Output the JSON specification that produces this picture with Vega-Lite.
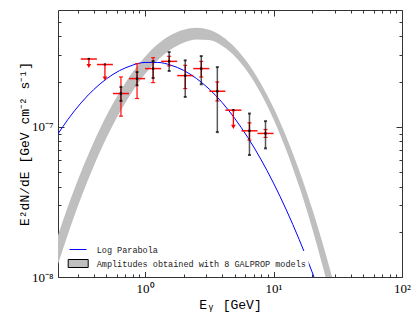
{
  "$schema": "https://vega.github.io/schema/vega-lite/v6.json",
  "width": 344,
  "height": 267,
  "autosize": {"type": "none"},
  "padding": {"left": 58, "top": 10, "right": 13, "bottom": 35},
  "background": "white",
  "config": {
    "view": {"stroke": "#333", "strokeWidth": 1},
    "axis": {"domain": false, "grid": false, "tickColor": "#333", "labelFont": "Liberation Serif", "labelFontSize": 13, "labelColor": "black", "titleFont": "Liberation Mono", "titleFontWeight": "normal", "titleColor": "black", "titleFontSize": 13}
  },
  "datasets": {
    "pts": [
      {"E": 0.365, "Elo": 0.316, "Ehi": 0.422, "F": 2.83e-7, "ul": 1, "aend": 2.54e-7},
      {"E": 0.487, "Elo": 0.422, "Ehi": 0.562, "F": 2.60e-7, "ul": 1, "aend": 2.10e-7},
      {"E": 0.649, "Elo": 0.562, "Ehi": 0.750, "F": 1.667e-7, "ul": 0, "rlo": 1.178e-7, "rhi": 2.15e-7, "blo": 1.488e-7, "bhi": 1.844e-7},
      {"E": 0.866, "Elo": 0.750, "Ehi": 1.0, "F": 2.096e-7, "ul": 0, "rlo": 1.544e-7, "rhi": 2.636e-7, "blo": 1.891e-7, "bhi": 2.319e-7},
      {"E": 1.155, "Elo": 1.0, "Ehi": 1.334, "F": 2.443e-7, "ul": 0, "rlo": 1.971e-7, "rhi": 2.89e-7, "blo": 2.115e-7, "bhi": 2.742e-7},
      {"E": 1.540, "Elo": 1.334, "Ehi": 1.778, "F": 2.73e-7, "ul": 0, "rlo": 2.55e-7, "rhi": 2.95e-7, "blo": 2.354e-7, "bhi": 3.148e-7},
      {"E": 2.054, "Elo": 1.778, "Ehi": 2.371, "F": 2.194e-7, "ul": 0, "rlo": 1.799e-7, "rhi": 2.569e-7, "blo": 1.582e-7, "bhi": 2.773e-7},
      {"E": 2.738, "Elo": 2.371, "Ehi": 3.162, "F": 2.443e-7, "ul": 0, "rlo": 2.148e-7, "rhi": 2.73e-7, "blo": 1.92e-7, "bhi": 2.961e-7},
      {"E": 3.652, "Elo": 3.162, "Ehi": 4.217, "F": 1.726e-7, "ul": 0, "rlo": 1.488e-7, "rhi": 1.99e-7, "blo": 9.22e-8, "bhi": 2.5e-7},
      {"E": 4.870, "Elo": 4.217, "Ehi": 5.623, "F": 1.291e-7, "ul": 1, "aend": 1.0e-7},
      {"E": 6.494, "Elo": 5.623, "Ehi": 7.499, "F": 9.41e-8, "ul": 0, "rlo": 8.16e-8, "rhi": 1.063e-7, "blo": 6.49e-8, "bhi": 1.227e-7},
      {"E": 8.660, "Elo": 7.499, "Ehi": 10.0, "F": 9.04e-8, "ul": 0, "rlo": 8.5e-8, "rhi": 9.6e-8, "blo": 7.19e-8, "bhi": 1.091e-7}
    ],
    "band": [
      {"E": 0.2089, "hi": 1.875e-8, "lo": 1.199e-8},
      {"E": 0.2512, "hi": 2.958e-8, "lo": 1.932e-8},
      {"E": 0.3162, "hi": 4.966e-8, "lo": 3.342e-8},
      {"E": 0.3981, "hi": 7.889e-8, "lo": 5.458e-8},
      {"E": 0.5012, "hi": 1.189e-7, "lo": 8.453e-8},
      {"E": 0.6310, "hi": 1.694e-7, "lo": 1.236e-7},
      {"E": 0.7943, "hi": 2.291e-7, "lo": 1.714e-7},
      {"E": 1.0, "hi": 2.931e-7, "lo": 2.249e-7},
      {"E": 1.2589, "hi": 3.556e-7, "lo": 2.786e-7},
      {"E": 1.5849, "hi": 4.083e-7, "lo": 3.273e-7},
      {"E": 1.9953, "hi": 4.436e-7, "lo": 3.631e-7},
      {"E": 2.5119, "hi": 4.571e-7, "lo": 3.819e-7},
      {"E": 3.1623, "hi": 4.426e-7, "lo": 3.784e-7},
      {"E": 3.9811, "hi": 3.999e-7, "lo": 3.467e-7},
      {"E": 5.0119, "hi": 3.381e-7, "lo": 2.944e-7},
      {"E": 6.3096, "hi": 2.661e-7, "lo": 2.312e-7},
      {"E": 7.9433, "hi": 1.954e-7, "lo": 1.675e-7},
      {"E": 10.0, "hi": 1.340e-7, "lo": 1.125e-7},
      {"E": 12.589, "hi": 8.570e-8, "lo": 6.966e-8},
      {"E": 15.849, "hi": 5.129e-8, "lo": 3.999e-8},
      {"E": 19.953, "hi": 2.858e-8, "lo": 2.123e-8},
      {"E": 25.119, "hi": 1.486e-8, "lo": 1.040e-8},
      {"E": 31.623, "hi": 7.21e-9, "lo": 4.721e-9}
    ],
    "lp": [
      {"E": 0.2089, "F": 8.913e-8},
      {"E": 0.2512, "F": 1.122e-7},
      {"E": 0.3162, "F": 1.439e-7},
      {"E": 0.3981, "F": 1.770e-7},
      {"E": 0.5012, "F": 2.089e-7},
      {"E": 0.6310, "F": 2.366e-7},
      {"E": 0.7943, "F": 2.570e-7},
      {"E": 1.0, "F": 2.685e-7},
      {"E": 1.2589, "F": 2.685e-7},
      {"E": 1.5849, "F": 2.576e-7},
      {"E": 1.9953, "F": 2.377e-7},
      {"E": 2.5119, "F": 2.099e-7},
      {"E": 3.1623, "F": 1.782e-7},
      {"E": 3.9811, "F": 1.452e-7},
      {"E": 5.0119, "F": 1.132e-7},
      {"E": 6.3096, "F": 8.492e-8},
      {"E": 7.9433, "F": 6.109e-8},
      {"E": 10.0, "F": 4.217e-8},
      {"E": 12.589, "F": 2.793e-8},
      {"E": 15.849, "F": 1.774e-8},
      {"E": 19.953, "F": 1.081e-8},
      {"E": 25.119, "F": 6.32e-9}
    ]
  },
  "resolve": {"axis": {"x": "independent", "y": "independent"}},
  "layer": [
    {
      "data": {"name": "band"},
      "mark": {"type": "area", "clip": true, "interpolate": "monotone", "opacity": 1},
      "encoding": {
        "x": {"field": "E", "type": "quantitative", "scale": {"type": "log", "domain": [0.21, 100], "nice": false},
          "axis": {"orient": "bottom", "title": "Eᵧ [GeV]", "titlePadding": 0,
            "values": [0.3,0.4,0.5,0.6,0.7,0.8,0.9,1,2,3,4,5,6,7,8,9,10,20,30,40,50,60,70,80,90,100],
            "labelExpr": "datum.value == 1 ? '10⁰' : datum.value == 10 ? '10¹' : datum.value == 100 ? '10²' : ''",
            "tickSize": {"condition": {"test": "datum.value == 1 || datum.value == 10 || datum.value == 100", "value": -6}, "value": -3},
            "labelPadding": 11, "labelFlush": false, "labelOverlap": false}},
        "y": {"field": "hi", "type": "quantitative", "scale": {"type": "log", "domain": [1e-8, 6e-7], "nice": false},
          "axis": {"orient": "left", "title": "E²dN/dE [GeV cm⁻² s⁻¹]", "titlePadding": 0,
            "values": [1e-8,2e-8,3e-8,4e-8,5e-8,6e-8,7e-8,8e-8,9e-8,1e-7,2e-7,3e-7,4e-7,5e-7],
            "labelExpr": "abs(datum.value - 1e-8) < 1e-12 ? '10⁻⁸' : abs(datum.value - 1e-7) < 1e-12 ? '10⁻⁷' : ''",
            "tickSize": {"condition": {"test": "abs(datum.value - 1e-8) < 1e-12 || abs(datum.value - 1e-7) < 1e-12", "value": -6}, "value": -3},
            "labelPadding": 11, "labelFlush": false, "labelOverlap": false}},
        "y2": {"field": "lo"},
        "fill": {"datum": "Amplitudes obtained with 8 GALPROP models", "type": "nominal", "scale": {"range": ["#bfbfbf"]},
          "legend": {"title": null, "orient": "none", "legendX": 7.7, "legendY": 241, "padding": 2, "fillColor": "white",
            "symbolType": "M-1,-0.4H1V0.4H-1Z", "symbolSize": 400, "symbolStrokeColor": "black", "symbolStrokeWidth": 1, "symbolOpacity": 1,
            "labelFont": "Liberation Mono", "labelFontSize": 8.5, "labelColor": "#222", "labelOffset": 8, "labelLimit": 400}}
      }
    },
    {
      "data": {"name": "lp"},
      "mark": {"type": "line", "clip": true, "interpolate": "monotone", "strokeWidth": 1},
      "encoding": {
        "x": {"field": "E", "type": "quantitative",
          "axis": {"orient": "top", "title": null, "labels": false,
            "values": [0.3,0.4,0.5,0.6,0.7,0.8,0.9,1,2,3,4,5,6,7,8,9,10,20,30,40,50,60,70,80,90,100],
            "tickSize": {"condition": {"test": "datum.value == 1 || datum.value == 10 || datum.value == 100", "value": -6}, "value": -3}}},
        "y": {"field": "F", "type": "quantitative",
          "axis": {"orient": "right", "title": null, "labels": false,
            "values": [1e-8,2e-8,3e-8,4e-8,5e-8,6e-8,7e-8,8e-8,9e-8,1e-7,2e-7,3e-7,4e-7,5e-7],
            "tickSize": {"condition": {"test": "abs(datum.value - 1e-8) < 1e-12 || abs(datum.value - 1e-7) < 1e-12", "value": -6}, "value": -3}}},
        "stroke": {"datum": "Log Parabola", "type": "nominal", "scale": {"range": ["#0000ff"]},
          "legend": {"title": null, "orient": "none", "legendX": 9, "legendY": 228.5, "padding": 2, "fillColor": "white",
            "symbolType": "stroke", "symbolSize": 289, "symbolStrokeWidth": 1,
            "labelFont": "Liberation Mono", "labelFontSize": 8.5, "labelColor": "#222", "labelOffset": 9.7}}
      }
    },
    {
      "data": {"name": "pts"},
      "mark": {"type": "rule", "color": "red", "strokeWidth": 1.5, "opacity": 0.95},
      "encoding": {
        "x": {"field": "Elo", "type": "quantitative", "axis": null},
        "x2": {"field": "Ehi"},
        "y": {"field": "F", "type": "quantitative", "axis": null}
      }
    },
    {
      "data": {"name": "pts"},
      "transform": [{"filter": "datum.ul == 0"}],
      "mark": {"type": "rule", "color": "red", "strokeWidth": 1.3, "opacity": 0.9},
      "encoding": {
        "x": {"field": "E", "type": "quantitative", "axis": null},
        "y": {"field": "rlo", "type": "quantitative", "axis": null},
        "y2": {"field": "rhi"}
      }
    },
    {
      "data": {"name": "pts"},
      "transform": [{"filter": "datum.ul == 0"}],
      "mark": {"type": "tick", "orient": "horizontal", "color": "red", "size": 4, "thickness": 1.2, "opacity": 0.9},
      "encoding": {
        "x": {"field": "E", "type": "quantitative", "axis": null},
        "y": {"field": "rlo", "type": "quantitative", "axis": null}
      }
    },
    {
      "data": {"name": "pts"},
      "transform": [{"filter": "datum.ul == 0"}],
      "mark": {"type": "tick", "orient": "horizontal", "color": "red", "size": 4, "thickness": 1.2, "opacity": 0.9},
      "encoding": {
        "x": {"field": "E", "type": "quantitative", "axis": null},
        "y": {"field": "rhi", "type": "quantitative", "axis": null}
      }
    },
    {
      "data": {"name": "pts"},
      "transform": [{"filter": "datum.ul == 0"}],
      "mark": {"type": "rule", "color": "#000", "strokeWidth": 1.5, "opacity": 0.65},
      "encoding": {
        "x": {"field": "E", "type": "quantitative", "axis": null},
        "y": {"field": "blo", "type": "quantitative", "axis": null},
        "y2": {"field": "bhi"}
      }
    },
    {
      "data": {"name": "pts"},
      "transform": [{"filter": "datum.ul == 0"}],
      "mark": {"type": "tick", "orient": "horizontal", "color": "black", "size": 3, "thickness": 2},
      "encoding": {
        "x": {"field": "E", "type": "quantitative", "axis": null},
        "y": {"field": "blo", "type": "quantitative", "axis": null}
      }
    },
    {
      "data": {"name": "pts"},
      "transform": [{"filter": "datum.ul == 0"}],
      "mark": {"type": "tick", "orient": "horizontal", "color": "black", "size": 3, "thickness": 2},
      "encoding": {
        "x": {"field": "E", "type": "quantitative", "axis": null},
        "y": {"field": "bhi", "type": "quantitative", "axis": null}
      }
    },
    {
      "data": {"name": "pts"},
      "mark": {"type": "point", "shape": "square", "filled": true, "color": "black", "size": 5, "opacity": 1},
      "encoding": {
        "x": {"field": "E", "type": "quantitative", "axis": null},
        "y": {"field": "F", "type": "quantitative", "axis": null}
      }
    },
    {
      "data": {"name": "pts"},
      "transform": [{"filter": "datum.ul == 1"}],
      "mark": {"type": "rule", "color": "red", "strokeWidth": 1.3},
      "encoding": {
        "x": {"field": "E", "type": "quantitative", "axis": null},
        "y": {"field": "F", "type": "quantitative", "axis": null},
        "y2": {"field": "aend"}
      }
    },
    {
      "data": {"name": "pts"},
      "transform": [{"filter": "datum.ul == 1"}],
      "mark": {"type": "point", "shape": "triangle-down", "filled": true, "color": "red", "size": 22, "opacity": 1},
      "encoding": {
        "x": {"field": "E", "type": "quantitative", "axis": null},
        "y": {"field": "aend", "type": "quantitative", "axis": null}
      }
    }
  ]
}
